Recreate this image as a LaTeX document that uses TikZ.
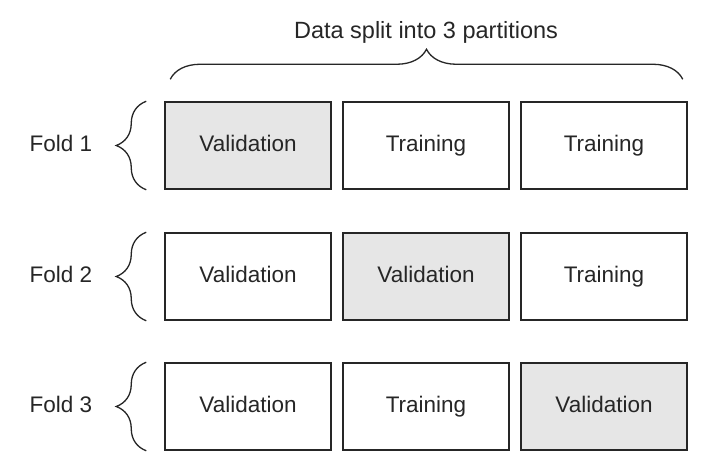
\documentclass[tikz,border=0pt]{standalone}
\usepackage{fontspec}
\setmainfont{Liberation Sans}
\usetikzlibrary{decorations.pathreplacing}
\definecolor{inkgray}{HTML}{262626}
\definecolor{lightfill}{HTML}{E6E6E6}
\tikzset{
  part/.style={draw=inkgray, line width=1.5pt, minimum width=166pt, minimum height=87pt,
    inner sep=0pt, text=inkgray, text height=16pt, text depth=5pt, font=\fontsize{22.5}{26}\selectfont},
  valpart/.style={part, fill=lightfill},
  foldlabel/.style={text=inkgray, text height=16pt, text depth=5pt, font=\fontsize{22.5}{26}\selectfont},
  curly/.style={draw=inkgray, line width=1.3pt, decorate, decoration={brace, amplitude=30pt}}
}
\begin{document}
\begin{tikzpicture}[x=1pt, y=1pt]
        \useasboundingbox (0,0) rectangle (725,-456);
        \node[valpart] (F1A) at (248,-145.5) {Validation};
        \node[part] (F1B) at (426,-145.5) {Training};
        \node[part] (F1C) at (604,-145.5) {Training};
        \node[part] (F2A) at (248,-276.5) {Validation};
        \node[valpart] (F2B) at (426,-276.5) {Validation};
        \node[part] (F2C) at (604,-276.5) {Training};
        \node[part] (F3A) at (248,-406.5) {Validation};
        \node[part] (F3B) at (426,-406.5) {Training};
        \node[valpart] (F3C) at (604,-406.5) {Validation};
        \node[foldlabel] (L1) at (61,-145.5) {Fold 1};
        \node[foldlabel] (L2) at (61,-276.5) {Fold 2};
        \node[foldlabel] (L3) at (61,-406.5) {Fold 3};
        \node[foldlabel, font=\fontsize{23.5}{27}\selectfont] (Title) at (426,-33) {Data split into 3 partitions};
        \draw[curly] ([shift={(6pt,22pt)}]F1A.north west) to ([shift={(-5pt,22pt)}]F1C.north east);
        \draw[curly] ([xshift=-18pt]F1A.south west) to ([xshift=-18pt]F1A.north west);
        \draw[curly] ([xshift=-18pt]F2A.south west) to ([xshift=-18pt]F2A.north west);
        \draw[curly] ([xshift=-18pt]F3A.south west) to ([xshift=-18pt]F3A.north west);
    \end{tikzpicture}
\end{document}
